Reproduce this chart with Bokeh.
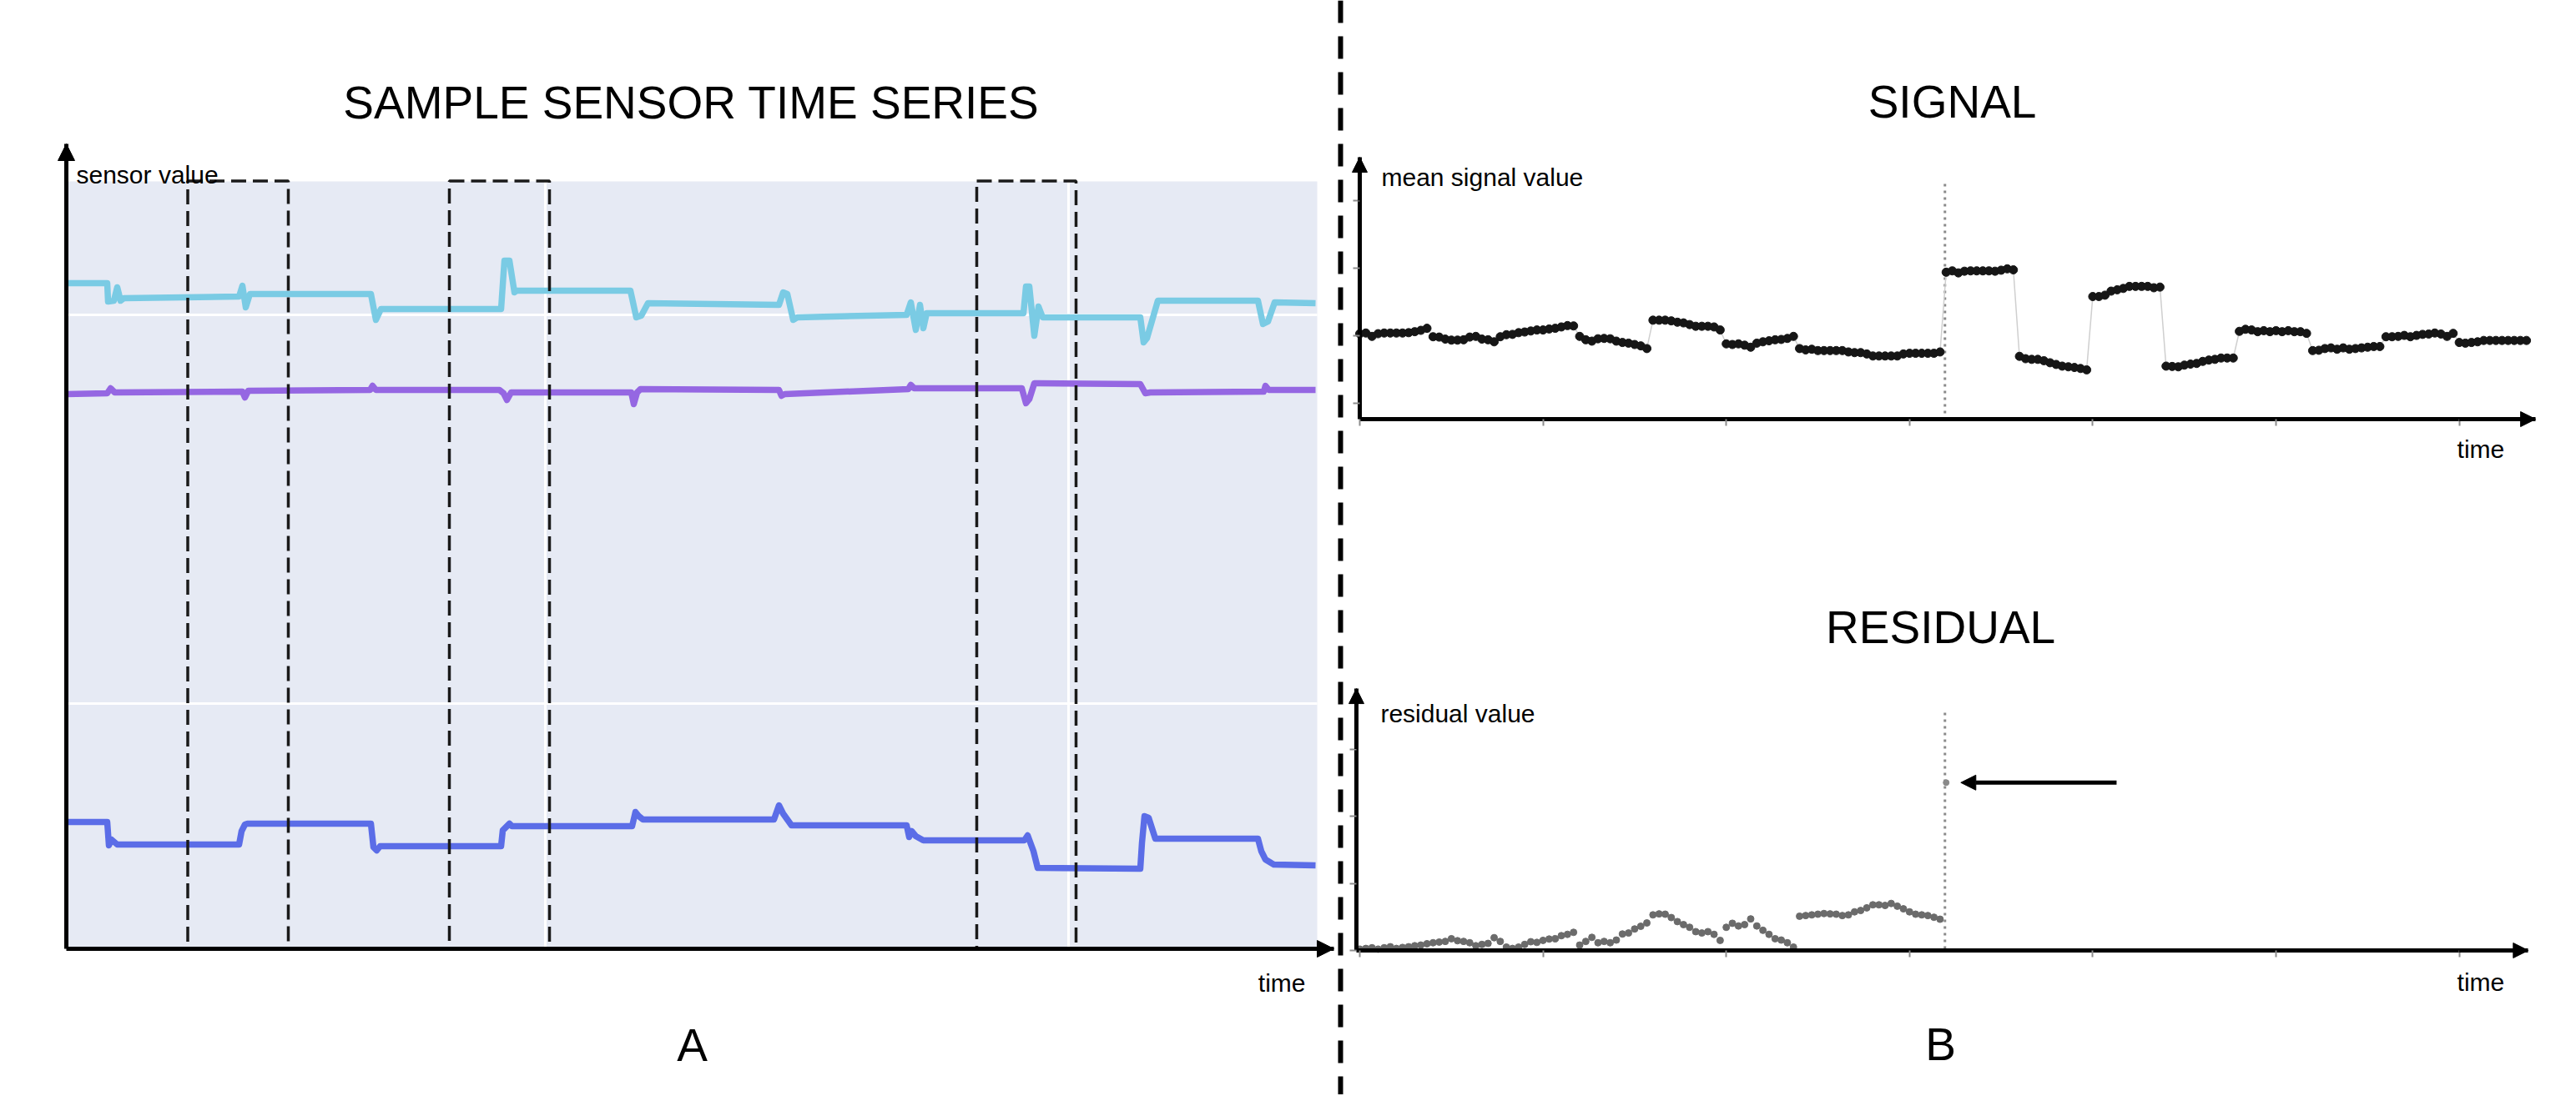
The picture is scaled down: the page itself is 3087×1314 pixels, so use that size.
from bokeh.plotting import figure
from bokeh.layouts import row, column
from bokeh.models import Label, Arrow, NormalHead, FixedTicker, Range1d, Span
from bokeh.embed import file_html
from bokeh.resources import INLINE

# ---------------- data: panel A (sensor time series) ----------------
cyan_t = [0, 4.9, 5.0, 5.7, 6.1, 6.5, 6.9, 20.7, 21.1, 21.5, 22.0, 36.5, 37.1, 37.7, 52.1, 52.5, 53.1,
          53.7, 54.0, 67.6, 68.3, 68.9, 69.7, 85.4, 85.9, 86.4, 87.1, 87.6, 100.7, 101.2, 101.8, 102.3,
          102.7, 103.1, 114.7, 115.0, 115.4, 116.0, 116.5, 117.0, 128.7, 129.1, 129.5, 130.8, 142.8,
          143.4, 144.0, 144.8, 149.7]
cyan_v = [79.8, 79.8, 77.6, 77.7, 79.3, 77.7, 78.0, 78.2, 79.5, 76.9, 78.5, 78.5, 75.4, 76.7, 76.7, 82.5,
          82.5, 78.7, 78.9, 78.9, 75.7, 75.9, 77.4, 77.2, 78.7, 78.5, 75.4, 75.7, 76.0, 77.5, 74.2, 77.2,
          74.4, 76.2, 76.2, 79.4, 79.4, 73.5, 77.0, 75.7, 75.7, 72.7, 73.2, 77.7, 77.7, 74.9, 75.2, 77.5,
          77.4]

purple_t = [0, 4.9, 5.3, 5.8, 21.1, 21.4, 21.8, 36.4, 36.7, 37.1, 51.9, 52.4, 52.8, 53.3, 67.7, 68.0,
            68.4, 68.8, 85.4, 85.7, 86.1, 100.9, 101.2, 101.6, 114.5, 115.0, 115.4, 116.0, 116.5, 128.7,
            129.3, 129.9, 143.5, 143.7, 144.1, 149.7]
purple_v = [66.5, 66.6, 67.2, 66.7, 66.8, 66.1, 66.9, 67.0, 67.5, 67.0, 67.0, 66.6, 65.8, 66.7, 66.7,
            65.3, 66.7, 67.1, 67.0, 66.3, 66.5, 67.1, 67.6, 67.2, 67.2, 65.4, 65.9, 67.8, 67.8, 67.7,
            66.6, 66.7, 66.8, 67.5, 67.0, 67.0]

blue_t = [0, 4.9, 5.1, 5.4, 6.1, 20.7, 21.0, 21.4, 21.7, 36.5, 36.8, 37.2, 37.6, 52.1, 52.3, 52.8, 53.1,
          53.4, 67.8, 68.2, 68.6, 69.1, 84.8, 85.4, 85.9, 86.9, 100.7, 101.0, 101.3, 101.8, 102.7, 114.8,
          115.2, 115.9, 116.4, 128.7, 128.9, 129.2, 129.7, 130.5, 142.8, 143.2, 143.7, 144.7, 149.7]
blue_v = [15.2, 15.2, 12.4, 13.1, 12.5, 12.5, 14.1, 14.9, 15.0, 15.0, 12.2, 11.8, 12.3, 12.3, 14.2, 14.7,
          15.0, 14.7, 14.7, 16.4, 15.9, 15.5, 15.5, 17.2, 16.2, 14.8, 14.8, 13.4, 14.1, 13.5, 13.0, 13.0,
          13.6, 11.7, 9.7, 9.6, 12.7, 15.9, 15.7, 13.2, 13.2, 11.7, 10.7, 10.1, 10.0]

# highlighted windows (start, end) in panel-A time units
window_start = [14.55, 45.9, 109.1]
window_end = [26.6, 57.9, 121.0]

# ---------------- data: panel B (signal and residual) ----------------
signal_v = [
    20.3, 20.4, 19.9, 20.3, 20.4, 20.4, 20.4, 20.4, 20.45, 20.6, 20.8, 21.1,
    19.85, 19.8, 19.5, 19.35, 19.35, 19.4, 19.8, 19.9, 19.5, 19.4, 19.1, 19.85,
    20.15, 20.2, 20.45, 20.55, 20.7, 20.85, 20.85, 21.0, 21.1, 21.3, 21.5, 21.45,
    19.9, 19.4, 19.2, 19.55, 19.6, 19.55, 19.2, 19.0, 18.9, 18.7, 18.5, 18.1,
    22.3, 22.3, 22.3, 22.2, 22.0, 21.9, 21.65, 21.4, 21.4, 21.4, 21.3, 20.85,
    18.8, 18.7, 18.8, 18.6, 18.3, 18.9, 19.1, 19.25, 19.4, 19.45, 19.6, 19.9,
    18.1, 17.9, 18.0, 17.8, 17.8, 17.8, 17.8, 17.8, 17.6, 17.5, 17.5, 17.3,
    17.0, 17.0, 17.0, 17.0, 17.0, 17.3, 17.4, 17.4, 17.4, 17.4, 17.4, 17.6,
    29.4, 29.6, 29.3, 29.55, 29.6, 29.6, 29.6, 29.6, 29.55, 29.7, 29.9, 29.75,
    16.95, 16.6, 16.5, 16.5, 16.3, 16.0, 15.75, 15.5, 15.4, 15.3, 15.15, 14.95,
    25.8, 25.8, 26.0, 26.6, 26.8, 27.0, 27.3, 27.3, 27.3, 27.3, 27.1, 27.2,
    15.5, 15.45, 15.4, 15.65, 15.8, 15.9, 16.2, 16.4, 16.5, 16.7, 16.7, 16.7,
    20.65, 20.95, 20.85, 20.6, 20.75, 20.6, 20.75, 20.6, 20.75, 20.6, 20.6, 20.35,
    17.8, 17.85, 18.1, 18.2, 18.0, 18.2, 18.0, 18.1, 18.2, 18.3, 18.4, 18.4,
    19.85, 19.85, 19.9, 20.05, 19.85, 20.05, 20.2, 20.25, 20.4, 20.25, 19.9, 20.35,
    19.0, 18.9, 19.0, 19.1, 19.3, 19.3, 19.3, 19.3, 19.3, 19.3, 19.3, 19.3,
]
signal_t = list(range(len(signal_v)))

residual_v = [
    0.2, 0.3, 0.4, 0.2, 0.4, 0.55, 0.3, 0.45, 0.55, 0.7, 0.8, 1.0,
    1.15, 1.25, 1.35, 1.75, 1.45, 1.35, 1.15, 0.7, 0.9, 1.05, 1.9, 1.35,
    0.5, 0.3, 0.5, 0.9, 1.3, 1.2, 1.5, 1.7, 1.75, 2.2, 2.4, 2.7,
    0.8, 1.35, 1.95, 1.15, 1.35, 1.15, 1.55, 2.45, 2.6, 3.2, 3.6, 4.1,
    5.3, 5.45, 5.4, 4.9, 4.3, 3.85, 3.45, 2.8, 2.6, 2.8, 2.4, 1.5,
    3.45, 4.05, 3.65, 3.85, 4.7, 3.65, 3.0, 2.4, 1.75, 1.55, 1.15, 0.5,
    5.1, 5.2, 5.3, 5.4, 5.5, 5.45, 5.4, 5.2, 5.3, 5.75, 5.95, 6.35,
    6.8, 6.8, 6.7, 7.0, 6.6, 6.2, 5.75, 5.4, 5.3, 5.2, 4.95, 4.65,
]
residual_t = list(range(len(residual_v)))

outlier_t = [96]
outlier_v = [25.0]
change_point = 95.8

time_ticks = [0, 30, 60, 90, 120, 150, 180]
signal_ticks = [10, 20, 30, 40]
residual_ticks = [0, 10, 20, 30]

# ---------------- styling ----------------
FONT = "Liberation Sans"
BG = "#E6EAF4"
CYAN = "#7ACBE4"
PURPLE = "#9567E2"
BLUE = "#5B6DE7"


def make_fig(w, h, xr, yr):
    p = figure(width=w, height=h, x_range=Range1d(*xr), y_range=Range1d(*yr), title=None,
               output_backend="svg", toolbar_location=None, min_border=0)
    p.outline_line_color = None
    p.background_fill_color = "white"
    p.border_fill_color = "white"
    p.grid.grid_line_color = None
    return p


def style_axes(p, x_at, x_bounds, xticks, y_at, y_bounds, yticks, tick_len):
    for ax, at, bounds, ticks in ((p.xaxis[0], x_at, x_bounds, xticks), (p.yaxis[0], y_at, y_bounds, yticks)):
        ax.fixed_location = at
        ax.bounds = bounds
        ax.axis_line_width = 5
        ax.axis_line_color = "black"
        ax.ticker = FixedTicker(ticks=ticks)
        ax.major_tick_out = tick_len
        ax.major_tick_in = 0
        ax.minor_tick_out = 0
        ax.minor_tick_in = 0
        ax.major_tick_line_color = "#8c8c8c" if tick_len else None
        ax.major_tick_line_width = 2
        ax.major_label_text_color = None
        ax.major_label_text_font_size = "1px"
        ax.major_label_standoff = 0


def add_text(p, x, y, text, size, align="left", baseline="alphabetic"):
    p.add_layout(Label(x=x, y=y, text=text, text_font=FONT, text_font_size=size,
                       text_color="black", text_align=align, text_baseline=baseline))


def add_arrow(p, x0, y0, x1, y1, size):
    p.add_layout(Arrow(end=NormalHead(size=size, fill_color="black", line_color="black", line_width=1),
                       x_start=x0, y_start=y0, x_end=x1, y_end=y1,
                       line_width=5, line_color="black"))


# ---------------- panel A ----------------
pA = make_fig(1601, 1312, (-7.9, 152.2), (-17.5, 113.7))
style_axes(pA, 0, (0, 151.9), [], 0, (0, 96.5), [], 0)
pA.quad(left=[0], right=[149.9], bottom=[0], top=[92.0], fill_color=BG, line_color=None)
pA.segment(x0=[0, 0, 57.4, 120.1], y0=[29.4, 76.0, 0, 0], x1=[149.9, 149.9, 57.4, 120.1],
           y1=[29.4, 76.0, 92.0, 92.0], line_color="white", line_width=3)

pA.line(cyan_t, cyan_v, line_color=CYAN, line_width=7.5, line_join="round")
pA.line(purple_t, purple_v, line_color=PURPLE, line_width=7.5, line_join="round")
pA.line(blue_t, blue_v, line_color=BLUE, line_width=7.5, line_join="round")
pA.quad(left=window_start, right=window_end, bottom=0, top=92.05, fill_color=None,
        line_color="#1a1a1a", line_width=3.5, line_dash="18 8")

add_arrow(pA, 0, 85, 0, 96.5, 20)
add_arrow(pA, 140, 0, 151.9, 0, 20)
add_text(pA, 74.9, 101.5, "SAMPLE SENSOR TIME SERIES", "55px", "center", "middle")
add_text(pA, 1.2, 92.8, "sensor value", "30px")
add_text(pA, 148.5, -4.1, "time", "30px", "right")
add_text(pA, 75.0, -11.5, "A", "55px", "center", "middle")

# ---------------- separator ----------------
pSep = figure(width=10, height=1312, x_range=Range1d(0, 1), y_range=Range1d(0, 1), title=None,
              output_backend="svg", toolbar_location=None, min_border=0,
              x_axis_location=None, y_axis_location=None)
pSep.outline_line_color = None
pSep.grid.grid_line_color = None
pSep.add_layout(Span(location=0.5, dimension="height", line_color="black", line_width=6, line_dash="27 16"))

# ---------------- panel B: signal ----------------
XR = (-2.459, 198.907)
pS = make_fig(1474, 640, XR, (-9.383, 69.63))
style_axes(pS, 7.65, (0, 192.5), time_ticks, 0, (7.65, 46.42), signal_ticks, 8)
pS.segment(x0=[change_point], y0=[8.52], x1=[change_point], y1=[42.84],
           line_color="#8a8a8a", line_width=3, line_dash="3 5")
pS.line(signal_t, signal_v, line_color="#cfcfcf", line_width=1.5)
pS.scatter(signal_t, signal_v, size=10, fill_color="#161616", line_color="#161616")
add_arrow(pS, 0, 40, 0, 46.42, 18)
add_arrow(pS, 180, 7.65, 192.5, 7.65, 18)
add_text(pS, 97.0, 54.6, "SIGNAL", "55px", "center", "middle")
add_text(pS, 3.55, 43.5, "mean signal value", "30px")
add_text(pS, 187.4, 3.2, "time", "30px", "right")

# ---------------- panel B: residual ----------------
pR = make_fig(1474, 672, XR, (-21.49, 61.99))
style_axes(pR, 0, (-0.55, 191.3), time_ticks, -0.55, (0, 39.0), residual_ticks, 8)
pR.segment(x0=[change_point], y0=[0.25], x1=[change_point], y1=[35.65],
           line_color="#8a8a8a", line_width=3, line_dash="3 5")
pR.scatter(residual_t, residual_v, size=8, fill_color="#6b6b6b", line_color="#6b6b6b")
pR.scatter(outlier_t, outlier_v, size=7, fill_color="#8a8a8a", line_color="#8a8a8a")
add_arrow(pR, 123.9, 25.0, 98.4, 25.0, 18)
add_arrow(pR, -0.55, 30, -0.55, 39.0, 18)
add_arrow(pR, 180, 0, 191.3, 0, 18)
add_text(pR, 95.1, 48.1, "RESIDUAL", "55px", "center", "middle")
add_text(pR, 3.4, 35.3, "residual value", "30px")
add_text(pR, 187.4, -4.7, "time", "30px", "right")
add_text(pR, 95.1, -14.0, "B", "55px", "center", "middle")

layout = row(pA, pSep, column(pS, pR))
open("out.html", "w").write(file_html(layout, INLINE, title="Sensor signal and residual"))
